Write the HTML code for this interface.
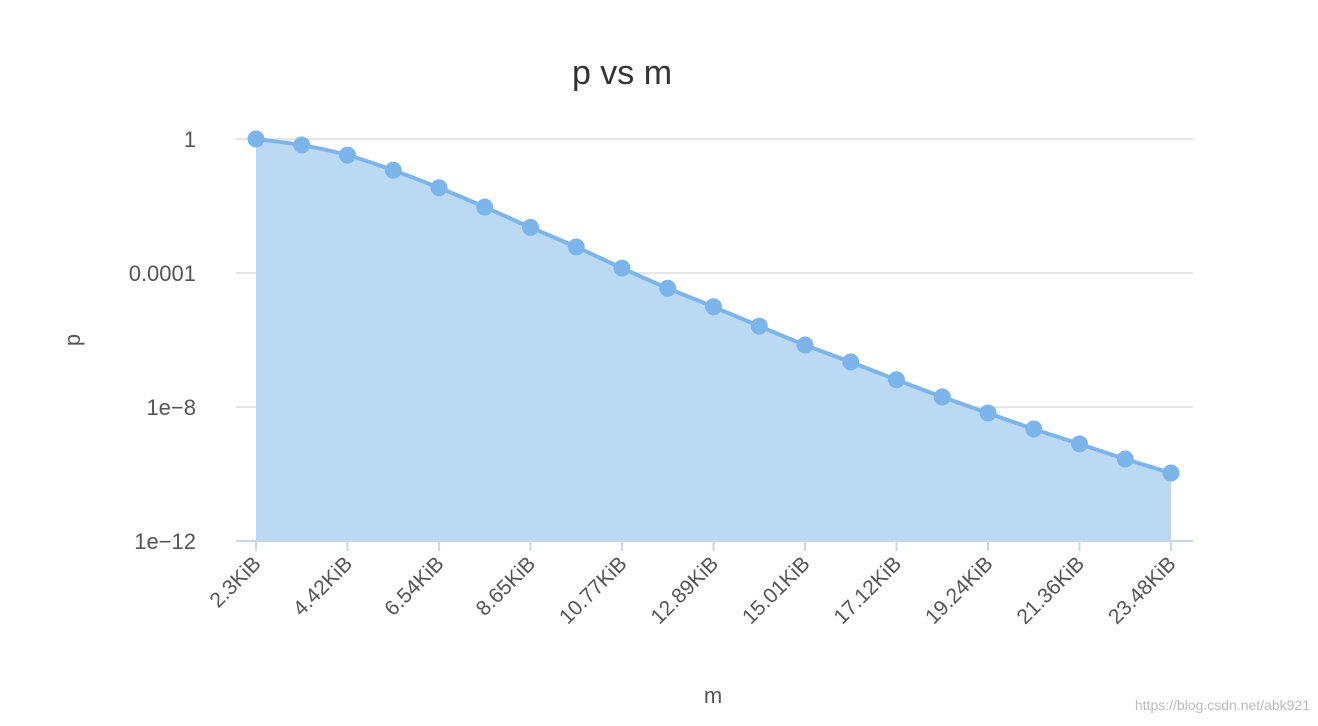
<!DOCTYPE html>
<html><head><meta charset="utf-8">
<style>
html,body{margin:0;padding:0;background:#fff;}
svg text{font-family:"Liberation Sans","DejaVu Sans",sans-serif;}
</style></head>
<body>
<svg id="chart" width="1318" height="721" viewBox="0 0 1318 721" xmlns="http://www.w3.org/2000/svg">
<rect width="1318" height="721" fill="#fff"/>
<text x="622" y="84" text-anchor="middle" font-size="34" fill="#333">p vs m</text>
<text transform="translate(80,340) rotate(-90)" text-anchor="middle" font-size="22" fill="#555">p</text>
<text x="713" y="703" text-anchor="middle" font-size="22" fill="#555">m</text>
<text x="1310" y="710" text-anchor="end" font-size="14" fill="#bbb">https://blog.csdn.net/abk921</text>
<g id="grid"></g>
<g id="series"></g>
<g id="axes"></g>
</svg>
<script>
const categories = ["2.3KiB","2.83KiB","3.36KiB","3.89KiB","4.42KiB","4.95KiB","5.48KiB","6.01KiB","6.54KiB","7.06KiB","7.59KiB","8.12KiB","8.65KiB","9.18KiB","9.71KiB","10.24KiB","10.77KiB","11.3KiB","11.83KiB","12.36KiB","12.89KiB"];
const xLabels = ["2.3KiB","4.42KiB","6.54KiB","8.65KiB","10.77KiB","12.89KiB","15.01KiB","17.12KiB","19.24KiB","21.36KiB","23.48KiB"];
const pValues = [1,0.66,0.33,0.117,0.035,0.0093,0.0023,0.0006,0.00014,3.5e-5,9.8e-6,2.6e-6,7.1e-7,2.2e-7,6.5e-8,2.0e-8,6.6e-9,2.2e-9,7.9e-10,2.8e-10,1.07e-10];
const yTicks = [1,1e-4,1e-8,1e-12];
const yTickLabels = ["1","0.0001","1e−8","1e−12"];

const NS="http://www.w3.org/2000/svg";
const x0=256,x1=1171,yTop=139,yBot=541;
const n=pValues.length;
function xPos(i){return x0+(x1-x0)*i/(n-1);}
function yPos(v){const l=Math.log10(v);return yTop+(0-l)/12*(yBot-yTop);}
function mk(tag,attrs,parent){const e=document.createElementNS(NS,tag);for(const k in attrs)e.setAttribute(k,attrs[k]);parent.appendChild(e);return e;}
const grid=document.getElementById('grid'),series=document.getElementById('series'),axes=document.getElementById('axes');
yTicks.forEach((t,i)=>{
  const y=yPos(t);
  if(i<yTicks.length-1){const g=mk('line',{x1:236,x2:1193,y1:y,y2:y,stroke:'#e6e6e6','stroke-width':2},grid);
  
  }
  const tx=mk('text',{x:196,y:y+8,'text-anchor':'end','font-size':22,fill:'#555'},axes);
  tx.textContent=yTickLabels[i];
  
  
});
const ax=mk('line',{x1:236,x2:1193,y1:yBot,y2:yBot,stroke:'#ccd6eb','stroke-width':2},axes);


xLabels.forEach((lab,k)=>{
  const x=x0+(x1-x0)*k/(xLabels.length-1);
  const tk=mk('line',{x1:x,x2:x,y1:yBot,y2:yBot+10,stroke:'#ccd6eb','stroke-width':2},axes);
  
  
  const t=mk('text',{transform:`translate(${x+6},${yBot+24}) rotate(-45)`,'text-anchor':'end','font-size':21,fill:'#555'},axes);
  t.textContent=lab;
  
  
});
const pts=pValues.map((v,i)=>[xPos(i),yPos(v)]);
let d=`M${pts[0][0]},${pts[0][1]}`;
for(let i=0;i<n-1;i++){
  const p0=pts[Math.max(i-1,0)],p1=pts[i],p2=pts[i+1],p3=pts[Math.min(i+2,n-1)];
  const c1=[p1[0]+(p2[0]-p0[0])/6,p1[1]+(p2[1]-p0[1])/6];
  const c2=[p2[0]-(p3[0]-p1[0])/6,p2[1]-(p3[1]-p1[1])/6];
  d+=` C${c1[0]},${c1[1]} ${c2[0]},${c2[1]} ${p2[0]},${p2[1]}`;
}
const area=mk('path',{d:d+` L${pts[n-1][0]},${yBot} L${pts[0][0]},${yBot} Z`,fill:'#bcd9f4'},series);


const line=mk('path',{d:d,fill:'none',stroke:'#7cb5ec','stroke-width':4},series);


pts.forEach(p=>{
  const c=mk('circle',{cx:p[0],cy:p[1],r:8.5,fill:'#7cb5ec'},series);
  
  
});
</script>
</body></html>
